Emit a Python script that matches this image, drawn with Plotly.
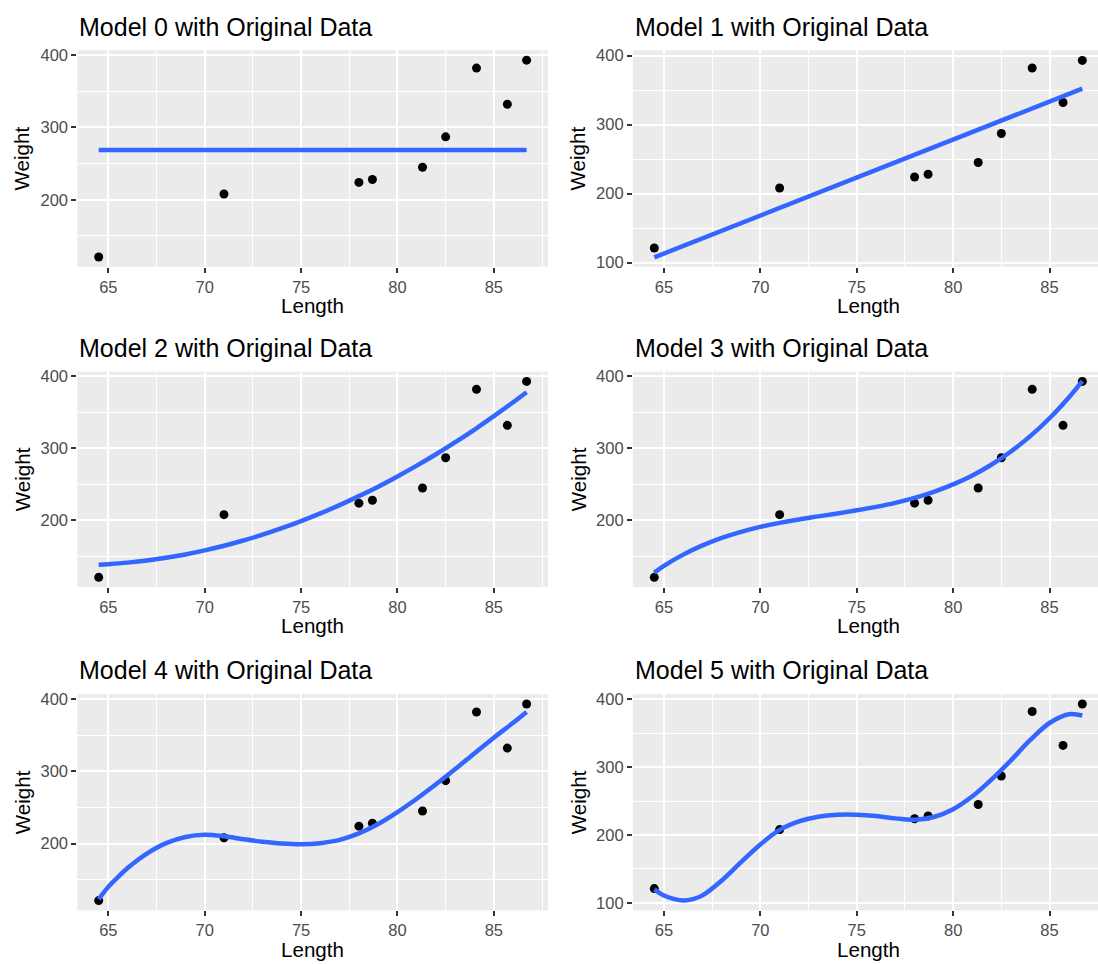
import plotly.graph_objects as go

# ---- data ----
length = [64.5, 71.0, 78.0, 78.7, 81.3, 82.5, 84.1, 85.7, 86.7]
weight = [121, 208, 224, 228, 245, 287, 382, 332, 393]

m0_x = [64.5, 86.7]
m0_y = [268.9, 268.9]

m1_x = [64.5, 86.7]
m1_y = [107.5, 352.0]

m2_x = [64.5, 65, 66, 67, 68, 69, 70, 71, 72, 73, 74, 75, 76, 77, 78, 79, 80,
        81, 82, 83, 84, 85, 86, 86.7]
m2_y = [138.5, 139.3, 141.4, 144.3, 148.2, 152.8, 158.4, 164.8, 172.1, 180.2, 189.2,
        199, 209.7, 221.3, 233.7, 246.9, 261.1, 276.1, 291.9, 308.7, 326.2, 344.7,
        364, 378]

m3_x = [64.5, 65, 66, 67, 68, 69, 70, 71, 72, 73, 74, 75, 76, 77, 78, 79, 80,
        81, 82, 83, 84, 85, 86, 86.7]
m3_y = [127.5, 137, 152.5, 165.3, 175.8, 184.2, 191, 196.6, 201.4, 205.6, 209.7,
        214, 218.8, 224.4, 231.3, 239.7, 250, 262.5, 277.7, 295.7, 317, 341.9,
        370.8, 393.5]

m4_x = [64.5, 65, 65.5, 66, 67, 68, 69, 70, 71, 72, 73, 74, 75, 76, 77, 78, 79,
        80, 81, 82, 83, 84, 85, 86, 86.7]
m4_y = [123, 140, 153.5, 166, 186, 200.5, 209, 212, 210, 206, 202.5, 200, 199,
        200.5, 205, 214, 227, 243.5, 262, 282, 303, 325, 346.5, 367, 382]

m5_x = [64.5, 65, 65.5, 66, 66.5, 67, 68, 69, 70, 71, 72, 73, 74, 75, 76, 77, 78,
        79, 80, 81, 82, 83, 84, 85, 86, 86.7]
m5_y = [120, 111, 106, 103.5, 105.5, 111, 133, 160, 186, 207.5, 220, 227, 230, 230,
        228, 224.5, 222.5, 226.5, 238, 257, 282, 310, 340, 365, 378, 376]

curves = [(m0_x, m0_y), (m1_x, m1_y), (m2_x, m2_y),
          (m3_x, m3_y), (m4_x, m4_y), (m5_x, m5_y)]
titles = ["Model %d with Original Data" % i for i in range(6)]

x_ticks = [65, 70, 75, 80, 85]
x_minor = [62.5, 67.5, 72.5, 77.5, 82.5, 87.5]
y_ticks_a = [200, 300, 400]
y_ticks_b = [100, 200, 300, 400]
y_minor = [150, 250, 350]
y_ranges = [[107.4, 406.6], [93.8, 407.6], [107.4, 406.6],
            [107.4, 406.6], [107.4, 406.6], [88.9, 407.4]]
y_tick_sets = [y_ticks_a, y_ticks_b, y_ticks_a, y_ticks_a, y_ticks_a, y_ticks_b]

# ---- layout geometry (pixels) ----
W, H = 1098, 964
PANEL_W = 470.7
col_px = [(77.3, 548.0), (632.9, 1098.0)]
x_ranges = [[63.39, 87.81], [63.39, 63.39 + (1098.0 - 632.9) / 19.28]]
row_px = [(46.7, 265.0), (370.7, 588.0), (696.0, 914.0)]

FONT = "Liberation Sans, Arial, sans-serif"
BLUE = "#3366FF"

fig = go.Figure()
layout = dict(width=W, height=H, margin=dict(l=0, r=0, t=0, b=0),
              paper_bgcolor="white", plot_bgcolor="#EBEBEB",
              showlegend=False, font=dict(family=FONT))
annotations = []

for i in range(6):
    r, c = divmod(i, 2)
    ax = "" if i == 0 else str(i + 1)
    xa, ya = "x" + ax, "y" + ax
    cx0, cx1 = col_px[c]
    ry0, ry1 = row_px[r]
    xdom = [cx0 / W, min(cx1 / W, 1.0)]
    ydom = [1 - ry1 / H, 1 - ry0 / H]

    fig.add_trace(go.Scatter(x=length, y=weight, mode="markers",
                             marker=dict(color="black", size=9),
                             xaxis=xa, yaxis=ya, hoverinfo="skip"))
    cx, cy = curves[i]
    fig.add_trace(go.Scatter(x=cx, y=cy, mode="lines",
                             line=dict(color=BLUE, width=4.5, shape="spline", smoothing=1.0),
                             xaxis=xa, yaxis=ya, hoverinfo="skip"))

    common = dict(showgrid=True, gridcolor="white", gridwidth=2.2,
                  zeroline=False, showline=False, ticks="outside", ticklen=5,
                  tickwidth=2, tickcolor="#333333",
                  tickfont=dict(family=FONT, size=16.5, color="#4D4D4D"))
    layout["xaxis" + ax] = dict(domain=xdom, range=x_ranges[c], anchor=ya,
                                tickmode="array", tickvals=x_ticks,
                                minor=dict(tickmode="array", tickvals=x_minor, showgrid=True,
                                           gridcolor="white", gridwidth=1.1, ticks=""),
                                **common)
    layout["yaxis" + ax] = dict(domain=ydom, range=y_ranges[i], anchor=xa,
                                tickmode="array", tickvals=y_tick_sets[i],
                                minor=dict(tickmode="array", tickvals=y_minor, showgrid=True,
                                           gridcolor="white", gridwidth=1.1, ticks=""),
                                **common)

    # title
    annotations.append(dict(text=titles[i], xref="paper", yref="paper",
                            x=cx0 / W, y=1 - (ry0 - 24) / H, xanchor="left", yanchor="middle",
                            showarrow=False, font=dict(family=FONT, size=25, color="black")))
    # x axis title
    pcx = cx0 + PANEL_W / 2
    annotations.append(dict(text="Length", xref="paper", yref="paper",
                            x=pcx / W, y=1 - (ry1 + 39) / H, xanchor="center", yanchor="middle",
                            showarrow=False, font=dict(family=FONT, size=20.6, color="black")))
    # y axis title
    ytx = 22 if c == 0 else 578
    annotations.append(dict(text="Weight", xref="paper", yref="paper", textangle=-90,
                            x=ytx / W, y=1 - ((ry0 + ry1) / 2) / H, xanchor="center", yanchor="middle",
                            showarrow=False, font=dict(family=FONT, size=20.6, color="black")))

layout["annotations"] = annotations
fig.update_layout(**layout)
fig.write_html("out.html")
